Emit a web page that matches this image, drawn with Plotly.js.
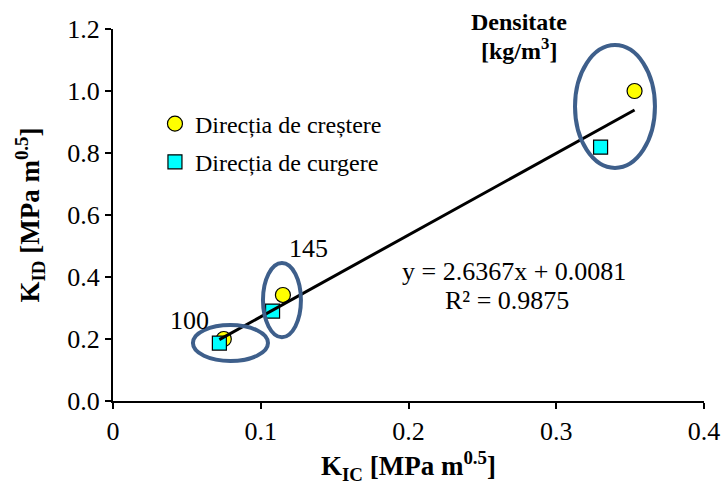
<!DOCTYPE html>
<html>
<head>
<meta charset="utf-8">
<script src="https://cdn.plot.ly/plotly-3.0.1.min.js"></script>
<style>html,body{margin:0;padding:0;background:#fff;}#chart{width:722px;height:485px;}</style>
</head>
<body>
<div id="chart"></div>
<script>
// Data
const seriesNames = ["Direcția de creștere", "Direcția de curgere"];
const growthX = [0.075, 0.115, 0.353];
const growthY = [0.20, 0.342, 1.00];
const flowX = [0.072, 0.108, 0.330];
const flowY = [0.187, 0.290, 0.819];
const trendSlope = 2.6367;
const trendIntercept = 0.0081;
const trendText = ["y = 2.6367x + 0.0081", "R² = 0.9875"];
const densityLabels = ["100", "145"];
const xTickVals = [0, 0.1, 0.2, 0.3, 0.4];
const xTickText = ["0", "0.1", "0.2", "0.3", "0.4"];
const yTickVals = [0, 0.2, 0.4, 0.6, 0.8, 1.0, 1.2];
const yTickText = ["0.0", "0.2", "0.4", "0.6", "0.8", "1.0", "1.2"];

const allX = growthX.concat(flowX);
const xMin = Math.min(...allX), xMax = Math.max(...allX);
const trendX = [xMin, xMax];
const trendY = trendX.map(x => trendSlope * x + trendIntercept);

const serif = "'Liberation Serif', 'Times New Roman', serif";

const traces = [
  {x: growthX, y: growthY, type: "scatter", mode: "markers", name: seriesNames[0], legendgroup: "g1",
   marker: {symbol: "circle", size: 15, color: "#ffff00", line: {color: "#000", width: 1.2}}},
  {x: flowX, y: flowY, type: "scatter", mode: "markers", name: seriesNames[1], legendgroup: "g2",
   marker: {symbol: "square", size: 14, color: "#00ffff", line: {color: "#000", width: 1.2}}},
  {x: trendX, y: trendY, type: "scatter", mode: "lines", showlegend: false,
   line: {color: "#000", width: 3}, hoverinfo: "skip"}
];

const ellipseColor = "#3e5f8b";
function ellipse(x0, x1, y0, y1) {
  return {type: "circle", xref: "x", yref: "y", x0: x0, x1: x1, y0: y0, y1: y1,
          line: {color: ellipseColor, width: 4}, layer: "above"};
}

const layout = {
  width: 722, height: 485,
  margin: {l: 113, r: 18, t: 29, b: 84},
  paper_bgcolor: "#fff", plot_bgcolor: "#fff",
  font: {family: serif, color: "#000", size: 26},
  showlegend: true,
  legend: {x: 0.071, y: 0.805, xanchor: "left", yanchor: "top",
           bgcolor: "rgba(0,0,0,0)", font: {size: 24, family: serif, color: "#000"},
           tracegroupgap: 4, itemwidth: 30},
  xaxis: {range: [0, 0.4], tickvals: xTickVals, ticktext: xTickText,
          showgrid: false, zeroline: false, showline: true, linecolor: "#000", linewidth: 2,
          ticks: "outside", ticklen: 6, tickwidth: 2, tickcolor: "#000",
          tickfont: {size: 26, family: serif},
          title: {text: "K<sub>IC</sub> [MPa m<sup>0.5</sup>]", font: {size: 27, family: serif, weight: "bold"}, standoff: 13}},
  yaxis: {range: [0, 1.2], tickvals: yTickVals, ticktext: yTickText,
          showgrid: false, zeroline: false, showline: true, linecolor: "#000", linewidth: 2,
          ticks: "outside", ticklen: 6, tickwidth: 2, tickcolor: "#000",
          tickfont: {size: 26, family: serif},
          title: {text: "K<sub>ID</sub> [MPa m<sup>0.5</sup>]", font: {size: 27, family: serif, weight: "bold"}, standoff: 20}},
  shapes: [
    ellipse(0.3127, 0.3668, 0.752, 1.148),
    ellipse(0.1015, 0.1272, 0.206, 0.445),
    ellipse(0.0541, 0.1049, 0.129, 0.245)
  ],
  annotations: [
    {xref: "x", yref: "y", x: 0.0521, y: 0.261, text: densityLabels[0], showarrow: false, font: {size: 26}},
    {xref: "x", yref: "y", x: 0.132, y: 0.4935, text: densityLabels[1], showarrow: false, font: {size: 26}},
    {xref: "x", yref: "y", x: 0.2714, y: 0.419, text: trendText[0], showarrow: false, font: {size: 26}},
    {xref: "x", yref: "y", x: 0.2667, y: 0.3226, text: trendText[1], showarrow: false, font: {size: 26}},
    {xref: "paper", yref: "paper", x: 0.687, y: 1.02, xanchor: "center", yanchor: "middle",
     text: "<b>Densitate</b>", showarrow: false, font: {size: 24}},
    {xref: "paper", yref: "paper", x: 0.687, y: 0.947, xanchor: "center", yanchor: "middle",
     text: "<b>[kg/m<sup>3</sup>]</b>", showarrow: false, font: {size: 24}}
  ]
};

Plotly.newPlot("chart", traces, layout, {displayModeBar: false, staticPlot: true});
</script>
</body>
</html>
